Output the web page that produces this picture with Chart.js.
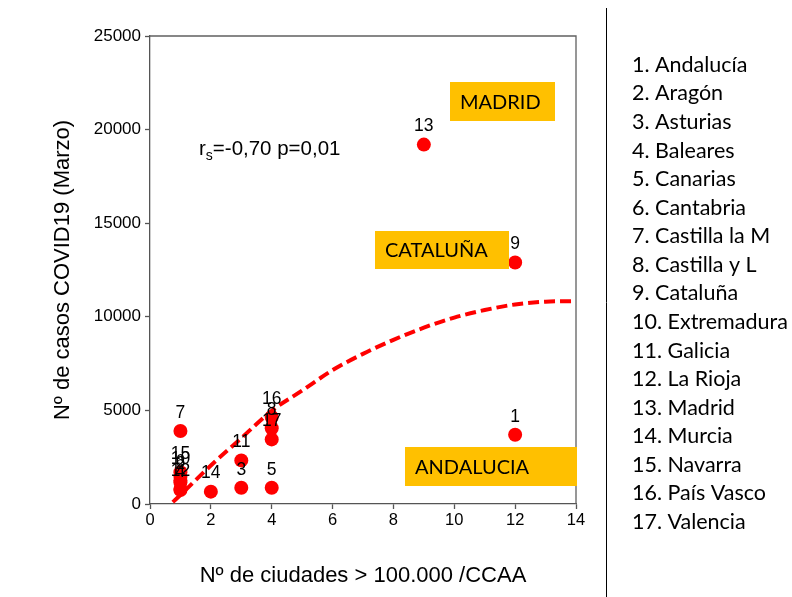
<!DOCTYPE html>
<html>
<head>
<meta charset="utf-8">
<script src="https://cdn.jsdelivr.net/npm/chart.js@4/dist/chart.umd.min.js"></script>
<style>
  html, body { margin: 0; padding: 0; background: #ffffff; }
  #wrap { width: 792px; height: 597px; position: relative; }
</style>
</head>
<body>
<div id="wrap"><canvas id="c" width="792" height="597"></canvas></div>
<script>
// Comunidades autónomas: number shown next to each point and full name for the list
const regionNumbers = ['1','2','3','4','5','6','7','8','9','10','11','12','13','14','15','16','17'];
const regionNames = ['Andalucía','Aragón','Asturias','Baleares','Canarias','Cantabria','Castilla la M',
  'Castilla y L','Cataluña','Extremadura','Galicia','La Rioja','Madrid','Murcia','Navarra','País Vasco','Valencia'];

// Cities above 100.000 inhabitants per region, and COVID19 cases in March
const citiesPerRegion = [12, 1, 3, 1, 4, 1, 1, 4, 12, 1, 3, 1, 9, 2, 1, 4, 4];
const casesMarch = [3700, 1150, 870, 750, 870, 1250, 3900, 4050, 12900, 1450, 2330, 800, 19200, 660, 1700, 4650, 3450];

// Fitted trend curve
const trendX = [0.75, 1, 2, 3, 4, 5, 6, 7, 8, 9, 10, 11, 12, 13, 14];
const trendY = [100, 480, 2060, 3520, 4980, 6060, 7150, 8020, 8770, 9420, 9960, 10360, 10660, 10810, 10840];

// Axis ticks
const xTicks = [0, 2, 4, 6, 8, 10, 12, 14];
const yTicks = [0, 5000, 10000, 15000, 20000, 25000];

const AXIS_FONT = "'Liberation Sans', Arial, sans-serif";
const LIST_FONT = "Lato, 'Open Sans', sans-serif";
const RED = '#ff0000';

const overlayPlugin = {
  id: 'overlay',
  afterDatasetsDraw(chart) {
    const ctx = chart.ctx;
    const area = chart.chartArea;
    ctx.save();

    // top and right edges of the plot frame
    ctx.strokeStyle = '#606060';
    ctx.lineWidth = 1.3;
    ctx.beginPath();
    ctx.moveTo(area.left, area.top);
    ctx.lineTo(area.right, area.top);
    ctx.lineTo(area.right, area.bottom);
    ctx.stroke();

    // region numbers above each point
    const meta = chart.getDatasetMeta(0);
    ctx.fillStyle = '#000';
    ctx.font = "17.5px " + AXIS_FONT;
    ctx.textAlign = 'center';
    ctx.textBaseline = 'middle';
    meta.data.forEach((pt, i) => {
      ctx.fillText(regionNumbers[i], pt.x, pt.y - 18);
    });

    // correlation note
    ctx.textAlign = 'left';
    ctx.textBaseline = 'alphabetic';
    ctx.font = "20.5px " + AXIS_FONT;
    let x = 199;
    const base = 155;
    ctx.fillText('r', x, base);
    x += ctx.measureText('r').width;
    ctx.font = "14px " + AXIS_FONT;
    ctx.fillText('s', x, base + 5);
    x += ctx.measureText('s').width;
    ctx.font = "20.5px " + AXIS_FONT;
    ctx.fillText('=-0,70 p=0,01', x, base);

    // highlighted region boxes
    const boxes = [
      { text: 'MADRID', x: 450, y: 82, w: 105, h: 39 },
      { text: 'CATALUÑA', x: 375, y: 231, w: 134, h: 38 },
      { text: 'ANDALUCIA', x: 405, y: 447, w: 172, h: 39 }
    ];
    boxes.forEach(b => {
      ctx.fillStyle = '#ffc000';
      ctx.fillRect(b.x, b.y, b.w, b.h);
      ctx.fillStyle = '#000';
      ctx.font = "20px " + LIST_FONT;
      ctx.textBaseline = 'middle';
      ctx.textAlign = 'left';
      ctx.fillText(b.text, b.x + 10, b.y + b.h / 2 + 1);
    });

    // separator and numbered region list
    ctx.strokeStyle = '#000';
    ctx.lineWidth = 1;
    ctx.beginPath();
    ctx.moveTo(606.5, 8);
    ctx.lineTo(606.5, 597);
    ctx.stroke();

    ctx.font = "21.5px " + LIST_FONT;
    ctx.textBaseline = 'middle';
    ctx.textAlign = 'left';
    regionNames.forEach((name, i) => {
      ctx.fillText(regionNumbers[i] + '. ' + name, 632, 65 + i * 28.56);
    });

    ctx.restore();
  }
};

new Chart(document.getElementById('c'), {
  type: 'scatter',
  data: {
    datasets: [
      {
        label: 'Casos',
        data: citiesPerRegion.map((c, i) => ({ x: c, y: casesMarch[i] })),
        backgroundColor: RED,
        borderWidth: 0,
        pointRadius: 7,
        pointHoverRadius: 7,
        pointStyle: 'circle',
        order: 2
      },
      {
        label: 'Tendencia',
        data: trendX.map((t, i) => ({ x: t, y: trendY[i] })),
        showLine: true,
        borderColor: RED,
        borderWidth: 4,
        borderDash: [11, 5],
        pointRadius: 0,
        cubicInterpolationMode: 'monotone',
        fill: false,
        order: 1
      }
    ]
  },
  options: {
    responsive: false,
    animation: false,
    events: [],
    layout: { padding: { left: 0, top: 36, right: 216, bottom: 0 } },
    plugins: { legend: { display: false }, tooltip: { enabled: false } },
    scales: {
      x: {
        type: 'linear',
        min: 0,
        max: 14,
        afterBuildTicks: s => { s.ticks = xTicks.map(v => ({ value: v })); },
        afterFit: s => { s.height = 93; },
        grid: { drawOnChartArea: false, drawTicks: true, tickLength: 5, tickColor: '#555', tickWidth: 1.3 },
        border: { color: '#555', width: 1.3 },
        ticks: { color: '#000', font: { family: AXIS_FONT, size: 16.5 }, padding: 2, maxRotation: 0,
                 callback: v => String(v) },
        title: {
          display: true, text: 'Nº de ciudades > 100.000 /CCAA', color: '#000',
          font: { family: AXIS_FONT, size: 22 }, padding: { top: 0, bottom: 8 }
        }
      },
      y: {
        type: 'linear',
        min: 0,
        max: 25000,
        afterBuildTicks: s => { s.ticks = yTicks.map(v => ({ value: v })); },
        afterFit: s => { s.width = 150; },
        grid: { drawOnChartArea: false, drawTicks: true, tickLength: 5, tickColor: '#555', tickWidth: 1.3 },
        border: { color: '#555', width: 1.3 },
        ticks: { color: '#000', font: { family: AXIS_FONT, size: 17 }, padding: 4,
                 callback: v => String(v) },
        title: {
          display: true, text: 'Nº de casos COVID19 (Marzo)', color: '#000',
          font: { family: AXIS_FONT, size: 22 }, padding: { top: 50, bottom: 0 }
        }
      }
    }
  },
  plugins: [overlayPlugin]
});
</script>
</body>
</html>
